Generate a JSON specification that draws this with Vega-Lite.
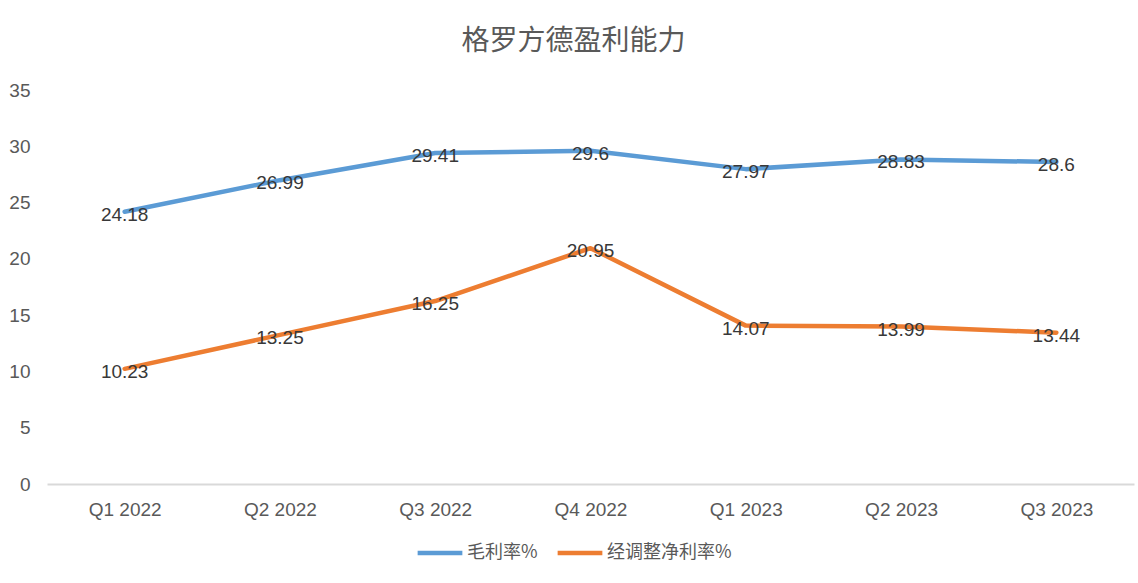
{
  "$schema": "https://vega.github.io/schema/vega-lite/v6.json",
  "autosize": {"type": "none"},
  "padding": {"left": 47, "top": 90, "right": 4, "bottom": 99},
  "width": 1087,
  "height": 394,
  "background": "white",
  "config": {"view": {"stroke": null}},
  "title": {
    "text": "格罗方德盈利能力",
    "fontSize": 28,
    "fontWeight": "normal",
    "color": "#595959",
    "font": "Noto Sans CJK SC",
    "anchor": "middle",
    "dx": -17,
    "offset": 25
  },
  "data": {
    "values": [
      {"quarter": "Q1 2022", "series": "毛利率%", "value": 24.18},
      {"quarter": "Q2 2022", "series": "毛利率%", "value": 26.99},
      {"quarter": "Q3 2022", "series": "毛利率%", "value": 29.41},
      {"quarter": "Q4 2022", "series": "毛利率%", "value": 29.6},
      {"quarter": "Q1 2023", "series": "毛利率%", "value": 27.97},
      {"quarter": "Q2 2023", "series": "毛利率%", "value": 28.83},
      {"quarter": "Q3 2023", "series": "毛利率%", "value": 28.6},
      {"quarter": "Q1 2022", "series": "经调整净利率%", "value": 10.23},
      {"quarter": "Q2 2022", "series": "经调整净利率%", "value": 13.25},
      {"quarter": "Q3 2022", "series": "经调整净利率%", "value": 16.25},
      {"quarter": "Q4 2022", "series": "经调整净利率%", "value": 20.95},
      {"quarter": "Q1 2023", "series": "经调整净利率%", "value": 14.07},
      {"quarter": "Q2 2023", "series": "经调整净利率%", "value": 13.99},
      {"quarter": "Q3 2023", "series": "经调整净利率%", "value": 13.44}
    ]
  },
  "encoding": {
    "x": {
      "field": "quarter",
      "type": "ordinal",
      "sort": null,
      "scale": {"paddingInner": 0, "paddingOuter": 0.5},
      "axis": {
        "title": null,
        "labelAngle": 0,
        "ticks": false,
        "domainColor": "#d9d9d9",
        "domainWidth": 2,
        "labelFontSize": 19,
        "labelColor": "#595959",
        "labelFont": "Liberation Sans, Noto Sans CJK SC",
        "labelPadding": 16
      }
    },
    "y": {
      "field": "value",
      "type": "quantitative",
      "scale": {"domain": [0, 35], "nice": false},
      "axis": {
        "title": null,
        "values": [0, 5, 10, 15, 20, 25, 30, 35],
        "grid": false,
        "domain": false,
        "ticks": false,
        "labelFontSize": 19,
        "labelColor": "#595959",
        "labelFont": "Liberation Sans, Noto Sans CJK SC",
        "labelPadding": 17
      }
    }
  },
  "layer": [
    {
      "mark": {"type": "line", "strokeWidth": 4.5, "strokeCap": "round", "strokeJoin": "round"},
      "encoding": {
        "color": {
          "field": "series",
          "type": "nominal",
          "scale": {"domain": ["毛利率%", "经调整净利率%"], "range": ["#5B9BD5", "#ED7D31"]},
          "legend": {
            "title": null,
            "orient": "none",
            "direction": "horizontal",
            "legendX": 368,
            "legendY": 438,
            "symbolType": "stroke",
            "symbolSize": 2000,
            "symbolStrokeWidth": 4.5,
            "labelFontSize": 18,
            "labelColor": "#595959",
            "labelFont": "Noto Sans CJK SC",
            "labelOffset": 2,
            "columnPadding": 10
          }
        }
      }
    },
    {
      "mark": {
        "type": "text",
        "fontSize": 19,
        "color": "#383838",
        "font": "Liberation Sans, Noto Sans CJK SC",
        "baseline": "middle",
        "dy": 3
      },
      "encoding": {
        "text": {"field": "value", "type": "quantitative"}
      }
    }
  ]
}
